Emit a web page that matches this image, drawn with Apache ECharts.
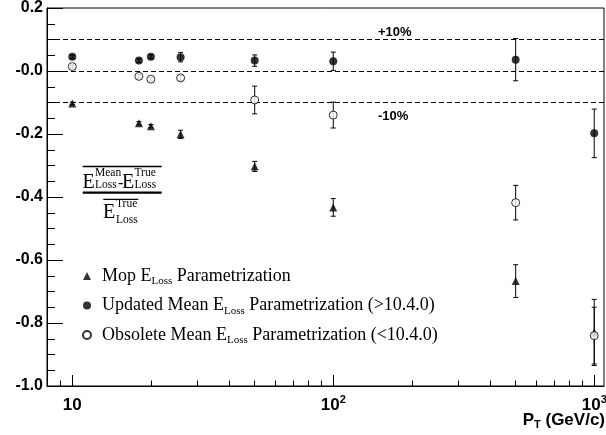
<!DOCTYPE html>
<html><head><meta charset="utf-8">
<script src="https://cdn.jsdelivr.net/npm/echarts@6/dist/echarts.min.js"></script>
<style>html,body{margin:0;padding:0;background:#fff}#c{width:606px;height:435px}</style>
</head><body><div id="c"></div>
<script>
// ---- data ----
const pt = [10, 18, 20, 26, 50, 100, 500, 1000];
const mopValues = [-0.103, -0.166, -0.175, -0.201, -0.303, -0.433, -0.667, -0.83];
const mopErrors = [0.004, 0.005, 0.005, 0.013, 0.016, 0.028, 0.052, 0.105];
const updatedValues = [0.045, 0.033, 0.045, 0.044, 0.033, 0.031, 0.036, -0.198];
const updatedErrors = [0.005, 0.006, 0.006, 0.015, 0.018, 0.029, 0.067, 0.077];
const obsoleteValues = [0.014, -0.017, -0.026, -0.022, -0.092, -0.140, -0.418, -0.84];
const obsoleteErrors = [0.005, 0.006, 0.006, 0.008, 0.044, 0.041, 0.055, 0.09];
const seriesNames = ['Mop', 'Updated', 'Obsolete'];
const legendTexts = [
  ['Mop E', 'Loss', ' Parametrization'],
  ['Updated Mean E', 'Loss', ' Parametrization (>10.4.0)'],
  ['Obsolete Mean E', 'Loss', ' Parametrization (<10.4.0)']
];
const xMajorTicks = [10, 100, 1000];
const xMajorBase = ['10', '10', '10'];
const xMajorExp = ['', '2', '3'];
const xMinorTicks = [9, 20, 30, 40, 50, 60, 70, 80, 90, 200, 300, 400, 500, 600, 700, 800, 900];
const yTickValues = [0.2, 0, -0.2, -0.4, -0.6, -0.8, -1.0];
const yTickLabels = ['0.2', '-0.0', '-0.2', '-0.4', '-0.6', '-0.8', '-1.0'];
const refLines = [0.1, 0, -0.1];
const refLabels = ['+10%', '-10%'];
const xTitle = ['P', 'T', ' (GeV/c)'];

const SANS = 'Liberation Sans';
const SERIF = 'Liberation Serif';

function pairs(vals) { return pt.map((x, i) => [x, vals[i]]); }
function errData(vals, errs) { return pt.map((x, i) => [x, vals[i], errs[i]]); }

function errRender(params, api) {
  const x = api.value(0), y = api.value(1), e = api.value(2);
  const a = api.coord([x, y + e]);
  const b = api.coord([x, y - e]);
  const st = { stroke: '#000', lineWidth: 1 };
  const cw = 2.5;
  return {
    type: 'group',
    children: [
      { type: 'line', shape: { x1: a[0], y1: a[1], x2: b[0], y2: b[1] }, style: st },
      { type: 'line', shape: { x1: a[0] - cw, y1: a[1], x2: a[0] + cw, y2: a[1] }, style: st },
      { type: 'line', shape: { x1: b[0] - cw, y1: b[1], x2: b[0] + cw, y2: b[1] }, style: st }
    ]
  };
}

const chart = echarts.init(document.getElementById('c'), null, { renderer: 'canvas' });

const legendMap = {};
seriesNames.forEach((n, i) => { legendMap[n] = legendTexts[i]; });

function txt(x, y, text, fs, extra) {
  return {
    type: 'text', x: x, y: y,
    style: Object.assign({ text: text, fontFamily: SERIF, fontSize: fs, fill: '#000', align: 'left', verticalAlign: 'middle' }, extra || {})
  };
}
function ln(x1, y1, x2, y2, w) {
  return { type: 'line', shape: { x1, y1, x2, y2 }, style: { stroke: '#000', lineWidth: w } };
}

const option = {
  animation: false,
  backgroundColor: '#fff',
  grid: { left: 47, right: 2, top: 8, bottom: 49, show: true, borderColor: '#000', borderWidth: 1, containLabel: false, outerBoundsMode: 'none' },
  xAxis: [
    {
      type: 'log', logBase: 10, min: 8, max: 1090, position: 'bottom',
      axisLine: { show: true, onZero: false, lineStyle: { color: '#000', width: 1 } },
      axisTick: { show: true, inside: true, length: 11, customValues: xMajorTicks, lineStyle: { color: '#000' } },
      splitLine: { show: false },
      axisLabel: {
        customValues: xMajorTicks, margin: 8,
        formatter: function (v) {
          const i = xMajorTicks.findIndex(t => Math.abs(t - v) / t < 1e-6);
          if (i < 0) return '';
          return '{b|' + xMajorBase[i] + '}' + (xMajorExp[i] ? '{s|' + xMajorExp[i] + '}' : '');
        },
        rich: {
          b: { fontFamily: SANS, fontWeight: 'bold', fontSize: 17, color: '#000', lineHeight: 22 },
          s: { fontFamily: SANS, fontWeight: 'bold', fontSize: 11, color: '#000', lineHeight: 11, verticalAlign: 'top' }
        }
      }
    },
    {
      type: 'log', logBase: 10, min: 8, max: 1090, position: 'bottom',
      axisLine: { show: false, onZero: false },
      axisTick: { show: true, inside: true, length: 5.5, customValues: xMinorTicks, lineStyle: { color: '#000' } },
      axisLabel: { show: false },
      splitLine: { show: false }
    }
  ],
  yAxis: {
    type: 'value', min: -1.0, max: 0.2, interval: 0.2,
    axisLine: { show: true, onZero: false, lineStyle: { color: '#000', width: 1 } },
    axisTick: { show: true, inside: true, length: 16, lineStyle: { color: '#000' } },
    minorTick: { show: true, splitNumber: 4, length: 8, lineStyle: { color: '#000' } },
    splitLine: { show: false },
    axisLabel: {
      margin: 4, fontFamily: SANS, fontWeight: 'bold', fontSize: 16, color: '#000',
      formatter: function (v) {
        const i = yTickValues.findIndex(t => Math.abs(t - v) < 1e-6);
        return i < 0 ? '' : yTickLabels[i];
      }
    }
  },
  legend: {
    orient: 'vertical', left: 82, top: 267, itemGap: 9.5, itemWidth: 8, itemHeight: 8, padding: 0,
    data: seriesNames,
    formatter: function (name) {
      const t = legendMap[name];
      return '{n|' + t[0] + '}{s|' + t[1] + '}{n|' + t[2] + '}';
    },
    textStyle: {
      rich: {
        n: { fontFamily: SERIF, fontSize: 18, color: '#000', lineHeight: 22 },
        s: { fontFamily: SERIF, fontSize: 11, color: '#000', lineHeight: 11, verticalAlign: 'bottom' }
      },
      padding: [0, 0, 0, 6]
    }
  },
  series: [
    { type: 'custom', name: 'errMop', renderItem: errRender, data: errData(mopValues, mopErrors), encode: { x: 0, y: 1 }, z: 2, silent: true },
    { type: 'custom', name: 'errUpd', renderItem: errRender, data: errData(updatedValues, updatedErrors), encode: { x: 0, y: 1 }, z: 2, silent: true },
    { type: 'custom', name: 'errObs', renderItem: errRender, data: errData(obsoleteValues, obsoleteErrors), encode: { x: 0, y: 1 }, z: 2, silent: true },
    {
      type: 'scatter', name: 'Mop', symbol: 'triangle', symbolSize: 8, data: pairs(mopValues), z: 5,
      itemStyle: { color: '#000' },
      markLine: {
        silent: true, symbol: ['none', 'none'], label: { show: false },
        lineStyle: { color: '#000', type: [5, 3], width: 1 },
        data: refLines.map(v => ({ yAxis: v }))
      }
    },
    { type: 'scatter', name: 'Updated', symbol: 'circle', symbolSize: 8, data: pairs(updatedValues), z: 5, itemStyle: { color: '#000' } },
    { type: 'scatter', name: 'Obsolete', symbol: 'circle', symbolSize: 8, data: pairs(obsoleteValues), z: 5, itemStyle: { color: '#fff', borderColor: '#000', borderWidth: 1 } }
  ],
  graphic: [
    txt(378, 32.5, refLabels[0], 13, { fontFamily: SANS, fontWeight: 'bold' }),
    txt(378, 116.7, refLabels[1], 13, { fontFamily: SANS, fontWeight: 'bold' }),
    // x axis title
    {
      type: 'text', right: 1, top: 412,
      style: {
        text: '{b|' + xTitle[0] + '}{s|' + xTitle[1] + '}{b|' + xTitle[2] + '}',
        rich: {
          b: { fontFamily: SANS, fontWeight: 'bold', fontSize: 17, fill: '#000', lineHeight: 20 },
          s: { fontFamily: SANS, fontWeight: 'bold', fontSize: 11, fill: '#000', lineHeight: 11, verticalAlign: 'bottom' }
        }
      }
    },
    // formula
    ln(82.7, 166.5, 161.7, 166.5, 1.3),
    txt(82.5, 189 - 0.3375 * 20, 'E', 20),
    txt(95, 176.5 - 0.3375 * 11.5, 'Mean', 11.5),
    txt(95, 188.5 - 0.3375 * 11.5, 'Loss', 11.5),
    txt(118, 189 - 0.3375 * 16, '-', 16),
    txt(122, 189 - 0.3375 * 20, 'E', 20),
    txt(134.5, 176.5 - 0.3375 * 11.5, 'True', 11.5),
    txt(134.5, 188.5 - 0.3375 * 11.5, 'Loss', 11.5),
    ln(82.7, 192.7, 161.7, 192.7, 2.2),
    ln(103.3, 199.3, 138.3, 199.3, 1.3),
    txt(103, 219.5 - 0.3375 * 20, 'E', 20),
    txt(116, 208 - 0.3375 * 11.5, 'True', 11.5),
    txt(116, 224 - 0.3375 * 11.5, 'Loss', 11.5)
  ]
};
chart.setOption(option);
</script>
</body></html>
